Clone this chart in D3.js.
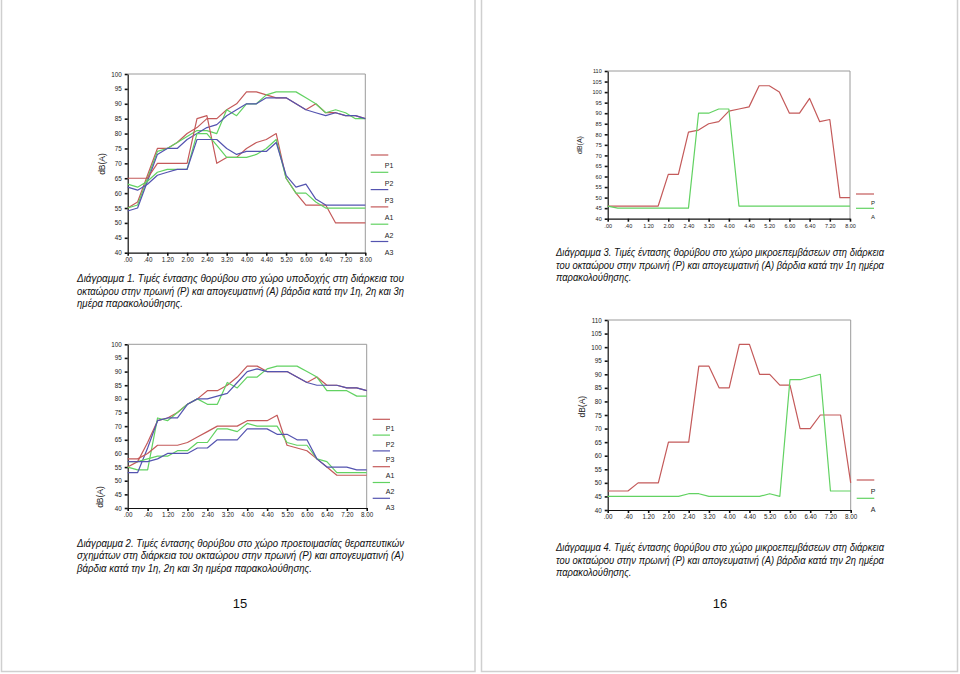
<!DOCTYPE html>
<html>
<head>
<meta charset="utf-8">
<script src="https://cdn.jsdelivr.net/npm/d3@7/dist/d3.min.js"></script>
<style>
  body { margin: 0; background: #fff; }
  svg { display: block; }
</style>
</head>
<body>
<svg id="sheet" width="960" height="674"></svg>
<script>
// time of day labels, one every 40 minutes (data points every 20 minutes)
var timeLabels = [".00", ".40", "1.20", "2.00", "2.40", "3.20", "4.00", "4.40", "5.20", "6.00", "6.40", "7.20", "8.00"];

// Διάγραμμα 1 - χώρος υποδοχής
var recP1 = [55, 57, 66, 75, 75, 77, 80, 82, 85, 85, 88, 90, 94, 94, 93, 92, 92, 90, 88, 90, 87, 87, 86, 86, 85];
var recP2 = [55, 56, 65, 74, 75, 77, 79, 81, 81, 80, 88, 86, 90, 90, 93, 94, 94, 94, 92, 90, 87, 88, 87, 85, 85];
var recP3 = [54, 55, 64, 73, 75, 75, 78, 80, 82, 83, 86, 88, 90, 90, 92, 92, 92, 90, 88, 87, 86, 87, 86, 86, 85];
var recA1 = [65, 65, 65, 70, 70, 70, 70, 85, 86, 70, 72, 72, 75, 77, 78, 80, 65, 60, 56, 56, 56, 50, 50, 50, 50];
var recA2 = [63, 62, 64, 67, 68, 68, 68, 80, 80, 76, 72, 72, 72, 73, 75, 78, 65, 60, 60, 57, 55, 55, 55, 55, 55];
var recA3 = [62, 61, 63, 66, 67, 68, 68, 78, 78, 78, 75, 73, 74, 74, 74, 77, 66, 62, 63, 58, 56, 56, 56, 56, 56];

// Διάγραμμα 2 - χώρος προετοιμασίας θεραπευτικών σχημάτων
var prepP1 = [55, 57, 64, 72, 73, 75, 78, 80, 83, 83, 85, 88, 92, 92, 90, 90, 90, 88, 86, 88, 85, 85, 84, 84, 83];
var prepP2 = [55, 54, 54, 73, 72, 75, 78, 80, 78, 78, 86, 84, 88, 88, 91, 92, 92, 92, 90, 88, 83, 83, 83, 81, 81];
var prepP3 = [53, 53, 62, 72, 73, 73, 78, 80, 80, 81, 82, 86, 90, 91, 90, 90, 90, 88, 86, 85, 85, 85, 84, 84, 83];
var prepA1 = [58, 58, 60, 63, 63, 63, 64, 66, 68, 70, 70, 70, 72, 72, 72, 74, 63, 62, 61, 58, 55, 52, 52, 52, 52];
var prepA2 = [57, 57, 58, 59, 59, 61, 61, 64, 64, 69, 69, 68, 71, 70, 70, 70, 64, 63, 63, 58, 57, 53, 53, 53, 53];
var prepA3 = [57, 57, 57, 58, 60, 60, 60, 62, 62, 65, 65, 65, 69, 69, 69, 67, 67, 65, 65, 58, 55, 55, 55, 54, 54];

// Διάγραμμα 3 / 4 - χώρος μικροεπεμβάσεων, 1η και 2η ημέρα
var surg1P = [46, 46, 46, 46, 46, 46, 61, 61, 81, 82, 85, 86, 91, 92, 93, 103, 103, 100, 90, 90, 97, 86, 87, 50, 50];
var surg1A = [46, 45, 45, 45, 45, 45, 45, 45, 45, 90, 90, 92, 92, 46, 46, 46, 46, 46, 46, 46, 46, 46, 46, 46, 46];
var surg2P = [47, 47, 47, 50, 50, 50, 65, 65, 65, 93, 93, 85, 85, 101, 101, 90, 90, 86, 86, 70, 70, 75, 75, 75, 50];
var surg2A = [45, 45, 45, 45, 45, 45, 45, 45, 46, 46, 45, 45, 45, 45, 45, 45, 46, 45, 88, 88, 89, 90, 47, 47, 47];

var threeDayNames = ["P1", "P2", "P3", "A1", "A2", "A3"];
var oneDayNames = ["P", "A"];

var RED = "#c45a5a", GREEN = "#62d262", BLUE = "#5454b0";
var FONT = "'Liberation Sans', Arial, sans-serif";

var svg = d3.select("#sheet");

// the two pages
svg.append("rect").attr("x", 1.5).attr("y", -5).attr("width", 473.5).attr("height", 676.5)
  .attr("fill", "none").attr("stroke", "#cfcfcf").attr("stroke-width", 1.5);
svg.append("rect").attr("x", 481.5).attr("y", -5).attr("width", 476).attr("height", 676.5)
  .attr("fill", "none").attr("stroke", "#cfcfcf").attr("stroke-width", 1.5);

function drawChart(c) {
  var g = svg.append("g");
  var x = d3.scaleLinear().domain([0, 24]).range([c.x0, c.x1]);
  var y = d3.scaleLinear().domain([40, c.yMax]).range([c.yBot, c.yTop]);

  // grey top/right frame
  g.append("path")
    .attr("d", "M" + c.x0 + "," + c.yTop + "H" + c.x1 + "V" + c.yBot)
    .attr("fill", "none").attr("stroke", "#9a9a9a").attr("stroke-width", 1);

  var yAxis = g.append("g").attr("transform", "translate(" + c.x0 + ",0)")
    .call(d3.axisLeft(y).tickValues(d3.range(40, c.yMax + 1, 5)).tickSize(3).tickSizeOuter(0).tickPadding(3));
  var xAxis = g.append("g").attr("transform", "translate(0," + c.yBot + ")")
    .call(d3.axisBottom(x).tickValues(d3.range(0, 25, 2)).tickSize(3).tickSizeOuter(0).tickPadding(2)
      .tickFormat(function (d, i) { return timeLabels[i]; }));
  [yAxis, xAxis].forEach(function (a) {
    a.select(".domain").attr("stroke", "#111").attr("stroke-width", 1.2);
    a.selectAll(".tick line").attr("stroke", "#111").attr("stroke-width", 1.6);
    a.selectAll(".tick text").attr("font-family", FONT).attr("font-size", c.tickFont).attr("fill", "#222");
  });

  g.append("text")
    .attr("transform", "translate(" + c.titleX + "," + c.titleY + ") rotate(-90)")
    .attr("text-anchor", "middle").attr("dy", "0.35em")
    .attr("font-family", FONT).attr("font-size", c.titleFont).attr("fill", "#222")
    .text("dB(A)");

  var line = d3.line().x(function (d, i) { return x(i); }).y(function (d) { return y(d); });
  c.series.forEach(function (s) {
    g.append("path").datum(s.values)
      .attr("d", line).attr("fill", "none")
      .attr("stroke", s.color).attr("stroke-width", 1.2).attr("stroke-linejoin", "round");
  });

  // legend: line sits above its label
  c.series.forEach(function (s, k) {
    var ly = c.legY + k * c.legStep;
    g.append("line").attr("x1", c.legX1).attr("x2", c.legX2).attr("y1", ly).attr("y2", ly)
      .attr("stroke", s.color).attr("stroke-width", 1.2);
    g.append("text").attr("x", c.legLabelX).attr("y", ly + c.legDy).attr("dy", "0.35em")
      .attr("text-anchor", "middle").attr("font-family", FONT).attr("font-size", c.legFont)
      .attr("fill", "#222").text(s.name);
  });
}

function makeSeries(names, arrays, colors) {
  return names.map(function (n, i) { return { name: n, values: arrays[i], color: colors[i] }; });
}

drawChart({
  x0: 127.7, x1: 365.3, yTop: 74, yBot: 252.7, yMax: 100,
  tickFont: 6.3, titleX: 101.7, titleY: 164, titleFont: 8.5,
  legX1: 370.7, legX2: 388.3, legY: 155, legStep: 17.3, legDy: 11, legLabelX: 389, legFont: 7,
  series: makeSeries(threeDayNames, [recP1, recP2, recP3, recA1, recA2, recA3], [RED, GREEN, BLUE, RED, GREEN, BLUE])
});
drawChart({
  x0: 127.7, x1: 366.7, yTop: 344.3, yBot: 508, yMax: 100,
  tickFont: 6.3, titleX: 100, titleY: 497, titleFont: 8.5,
  legX1: 372.7, legX2: 390, legY: 419.3, legStep: 15.8, legDy: 9, legLabelX: 390, legFont: 7,
  series: makeSeries(threeDayNames, [prepP1, prepP2, prepP3, prepA1, prepA2, prepA3], [RED, GREEN, BLUE, RED, GREEN, BLUE])
});
drawChart({
  x0: 607.7, x1: 850, yTop: 71, yBot: 218.7, yMax: 110,
  tickFont: 5.5, titleX: 580, titleY: 145, titleFont: 7,
  legX1: 856, legX2: 874, legY: 194, legStep: 14.3, legDy: 8.7, legLabelX: 873, legFont: 6,
  series: makeSeries(oneDayNames, [surg1P, surg1A], [RED, GREEN])
});
drawChart({
  x0: 607.7, x1: 850.7, yTop: 320, yBot: 510, yMax: 110,
  tickFont: 6.3, titleX: 581.7, titleY: 406.7, titleFont: 8.5,
  legX1: 856.7, legX2: 874.3, legY: 480, legStep: 18.3, legDy: 11.7, legLabelX: 873, legFont: 7,
  series: makeSeries(oneDayNames, [surg2P, surg2A], [RED, GREEN])
});

// captions: first lines justified, last line natural (same squeeze)
var captions = [
  { x: 77, w: 327, y: 282.3, lines: [
    "Διάγραμμα 1. Τιμές έντασης θορύβου στο χώρο υποδοχής στη διάρκεια του",
    "οκταώρου στην πρωινή (Ρ) και απογευματινή (Α) βάρδια κατά την 1η, 2η και 3η",
    "ημέρα παρακολούθησης."] },
  { x: 77, w: 327, y: 546.7, lines: [
    "Διάγραμμα 2. Τιμές έντασης θορύβου στο χώρο προετοιμασίας θεραπευτικών",
    "σχημάτων στη διάρκεια του οκταώρου στην πρωινή (Ρ) και απογευματινή (Α)",
    "βάρδια κατά την 1η, 2η και 3η ημέρα παρακολούθησης."] },
  { x: 556, w: 328, y: 256, lines: [
    "Διάγραμμα 3. Τιμές έντασης θορύβου στο χώρο μικροεπεμβάσεων στη διάρκεια",
    "του οκταώρου στην πρωινή (Ρ) και απογευματινή (Α) βάρδια κατά την 1η ημέρα",
    "παρακολούθησης."] },
  { x: 556, w: 328, y: 551, lines: [
    "Διάγραμμα 4. Τιμές έντασης θορύβου στο χώρο μικροεπεμβάσεων στη διάρκεια",
    "του οκταώρου στην πρωινή (Ρ) και απογευματινή (Α) βάρδια κατά την 2η ημέρα",
    "παρακολούθησης."] }
];

captions.forEach(function (cap) {
  var nodes = cap.lines.map(function (t, i) {
    return svg.append("text").attr("x", cap.x).attr("y", cap.y + i * 12.5)
      .attr("font-family", FONT).attr("font-size", 11.2).attr("font-style", "italic")
      .attr("fill", "#111").text(t);
  });
  var ratios = [];
  nodes.forEach(function (n, i) {
    if (i < nodes.length - 1) {
      var nat = n.node().getComputedTextLength();
      ratios.push(cap.w / nat);
      n.attr("textLength", cap.w).attr("lengthAdjust", "spacingAndGlyphs");
    }
  });
  var r = d3.mean(ratios);
  var last = nodes[nodes.length - 1];
  last.attr("textLength", last.node().getComputedTextLength() * r).attr("lengthAdjust", "spacingAndGlyphs");
});

svg.append("text").attr("x", 240).attr("y", 608).attr("text-anchor", "middle")
  .attr("font-family", FONT).attr("font-size", 13).attr("fill", "#111").text("15");
svg.append("text").attr("x", 720).attr("y", 608).attr("text-anchor", "middle")
  .attr("font-family", FONT).attr("font-size", 13).attr("fill", "#111").text("16");
</script>
</body>
</html>
